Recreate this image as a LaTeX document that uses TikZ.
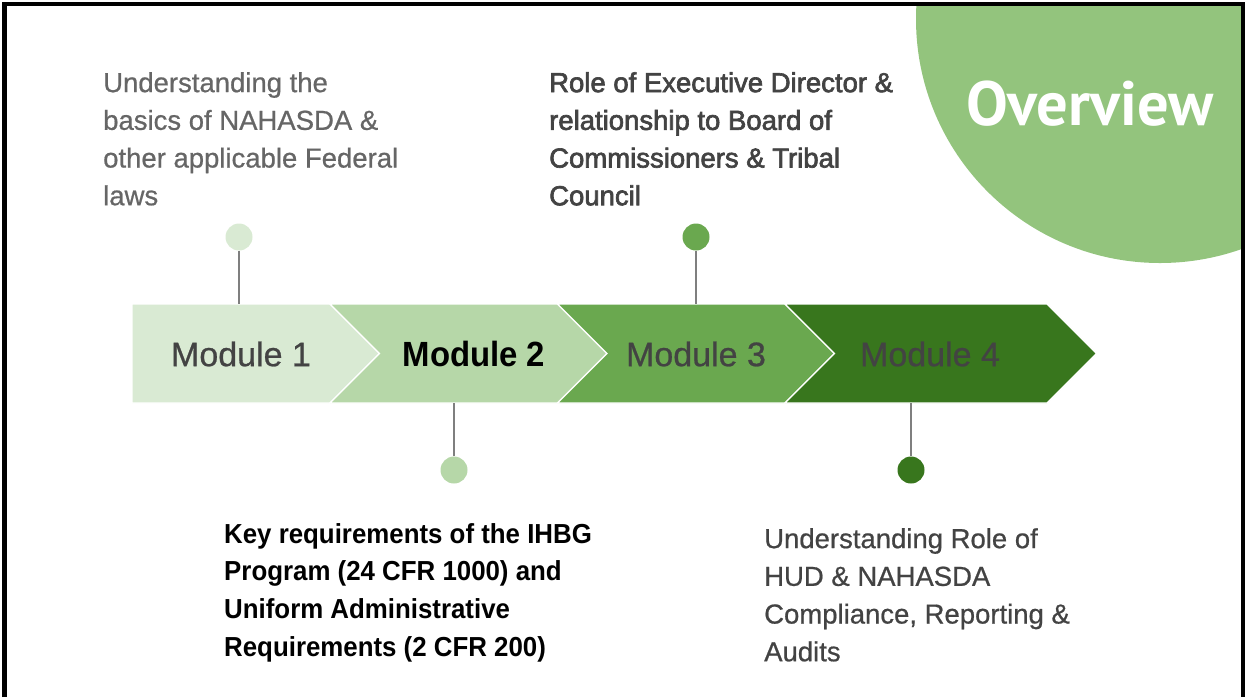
\documentclass[tikz,border=0pt]{standalone}
\usepackage{fontspec}
\setmainfont{Liberation Sans}[FakeBold=0.7]
\newfontfamily\medfont{Liberation Sans}[FakeBold=2.4]
\newfontfamily\narrowfont{Liberation Sans}[FakeStretch=0.94]
\newfontfamily\ovfont{PT Sans}
\definecolor{g1}{HTML}{D9EAD3}
\definecolor{g2}{HTML}{B6D7A8}
\definecolor{g3}{HTML}{6AA84F}
\definecolor{g4}{HTML}{38761D}
\definecolor{gcirc}{HTML}{93C47D}
\definecolor{txtgrey}{HTML}{666666}
\definecolor{txtdark}{HTML}{434343}
\definecolor{linegrey}{HTML}{7F7F7F}
\begin{document}
\begin{tikzpicture}[x=1pt,y=-1pt,
  chev/.style={draw=white,line width=1.2pt,line join=miter},
  modlabel/.style={inner sep=0pt,anchor=center,font=\fontsize{34}{40}\selectfont,text=txtdark},
  dot/.style={circle,inner sep=0pt,minimum size=27pt},
  conn/.style={draw=linegrey,line width=1.5pt},
  desc/.style={inner sep=0pt,anchor=north west,align=left,font=\fontsize{27.5}{37.7}\selectfont}]
\useasboundingbox (0,0) rectangle (1249,697);
% big circle
\begin{scope}
  \clip (4.5,4) rectangle (1243,697);
  \fill[gcirc] (1160,19) circle (244pt);
\end{scope}
\node[inner sep=0pt,text=white,font=\ovfont\bfseries\fontsize{62.5}{62.5}\selectfont] (ov) at (1090,104) {Overview};
% chevrons
\fill[g1,chev] (132,304) -- (330,304) -- (379.5,353.5) -- (330,403) -- (132,403) -- cycle;
\fill[g2,chev] (330,304) -- (557.5,304) -- (607,353.5) -- (557.5,403) -- (330,403) -- (379.5,353.5) -- cycle;
\fill[g3,chev] (557.5,304) -- (785,304) -- (834.5,353.5) -- (785,403) -- (557.5,403) -- (607,353.5) -- cycle;
\fill[g4,chev] (785,304) -- (1047,304) -- (1096.5,353.5) -- (1047,403) -- (785,403) -- (834.5,353.5) -- cycle;
\node[modlabel] (m1) at (241,354) {Module 1};
\node[modlabel,text=black,font=\narrowfont\bfseries\fontsize{35}{40}\selectfont] (m2) at (474,354) {Module 2};
\node[modlabel] (m3) at (696,354) {Module 3};
\node[modlabel] (m4) at (930,354) {Module 4};
% dots and connectors
\coordinate (c1) at (239,304);
\coordinate (c2) at (454,403);
\coordinate (c3) at (696,304);
\coordinate (c4) at (911,403);
\node[dot,fill=g1] (d1) at (239,237) {};
\node[dot,fill=g2] (d2) at (454,470) {};
\node[dot,fill=g3] (d3) at (696,237) {};
\node[dot,fill=g4] (d4) at (911,470) {};
\draw[conn] (d1) -- (c1);
\draw[conn] (d2) -- (c2);
\draw[conn] (d3) -- (c3);
\draw[conn] (d4) -- (c4);
% descriptions
\node[desc,text=txtgrey] (t1) at (103,72) {Understanding the\\basics of NAHASDA \&\\other applicable Federal\\laws};
\node[desc,text=txtdark,font=\medfont\fontsize{27.5}{37.7}\selectfont] (t3) at (549,72) {Role of Executive Director \&\\relationship to Board of\\Commissioners \& Tribal\\Council};
\node[desc,text=black,font=\narrowfont\bfseries\fontsize{27.5}{37.7}\selectfont] (t2) at (224,523) {Key requirements of the IHBG\\Program (24 CFR 1000) and\\Uniform Administrative\\Requirements (2 CFR 200)};
\node[desc,text=txtdark] (t4) at (764,528) {Understanding Role of\\HUD \& NAHASDA\\Compliance, Reporting \&\\Audits};
% frame
\draw[line width=4.5pt,line join=miter] (4.5,697) -- (4.5,4) -- (1243,4) -- (1243,697);
\end{tikzpicture}
\end{document}
